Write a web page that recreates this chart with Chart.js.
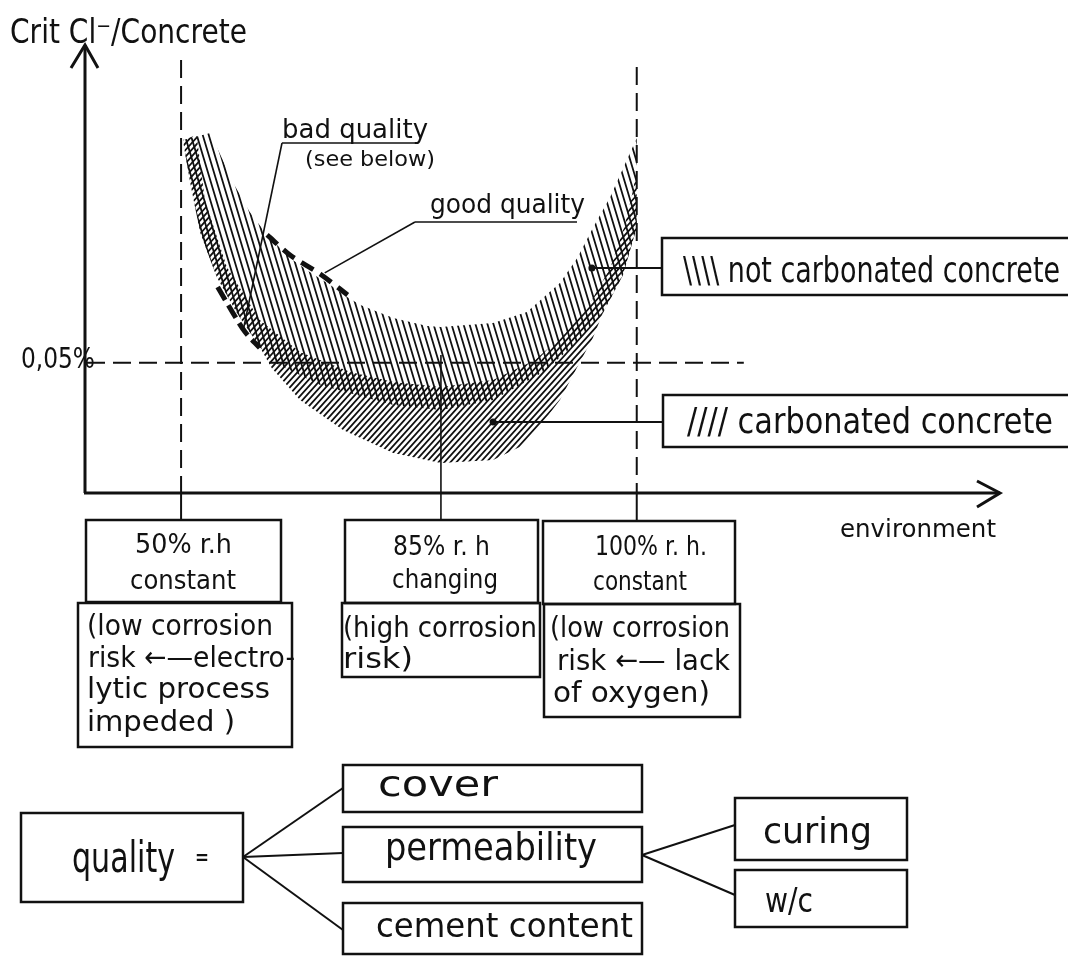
<!DOCTYPE html>
<html><head><meta charset="utf-8">
<script src="https://cdn.jsdelivr.net/npm/chart.js@4/dist/chart.umd.min.js"></script>
<style>html,body{margin:0;padding:0;background:#fff;}canvas{display:block;}</style>
</head><body>
<canvas id="c" width="1068" height="956"></canvas>
<script>
// ---------------- DATA ----------------
// x: environment index (arbitrary units), y: critical chloride content (% of concrete)
const envCategories = ['50% r.h constant', '85% r.h changing', '100% r.h. constant'];
const envX = [10.5, 38.9, 60.3];
const thresholdY = 0.05;
const thresholdLabel = '0,05%';
const yAxisTitle = 'Crit Cl\u207B/Concrete';
const xAxisTitle = 'environment';

// not carbonated concrete band (upper and lower bounds)
const notCarbUpperX = [13.7,16.2,18.0,19.9,22.4,24.6,26.8,28.6,30.1,33.7,37.4,38.9,44.6,48.3,51.9,53.8,55.5,57.4,59.2,60.3];
const notCarbUpperY = [0.1382,0.1190,0.1079,0.0991,0.0902,0.0848,0.0799,0.0753,0.0722,0.0672,0.0641,0.0637,0.0653,0.0695,0.0806,0.0902,0.1017,0.1136,0.1278,0.1363];
const notCarbLowerX = [10.7,11.5,12.6,14.4,16.6,19.1,20.8,25.7,33.7,38.9,44.6,50.1,53.8,56.6,58.8,59.9,60.3];
const notCarbLowerY = [0.1355,0.1190,0.0998,0.0829,0.0691,0.0561,0.0499,0.0415,0.0338,0.0319,0.0357,0.0465,0.0580,0.0691,0.0837,0.0971,0.1017];

// carbonated concrete band (upper and lower bounds)
const carbUpperX = [12.2,13.1,15.5,19.1,23.5,29.0,33.7,38.9,44.6,49.2,52.5,55.2,57.4,59.0,59.9,60.3];
const carbUpperY = [0.1374,0.1125,0.0868,0.0664,0.0541,0.0465,0.0426,0.0407,0.0434,0.0511,0.0614,0.0729,0.0864,0.1029,0.1163,0.1240];
const carbLowerX = [10.7,11.5,12.6,14.4,16.6,19.1,20.4,23.5,28.2,33.7,38.9,44.6,47.5,49.4,51.9,53.8,55.5,56.6,58.8,59.9,60.3];
const carbLowerY = [0.1355,0.1190,0.0998,0.0829,0.0691,0.0561,0.0480,0.0357,0.0242,0.0154,0.0115,0.0127,0.0177,0.0242,0.0357,0.0484,0.0595,0.0691,0.0837,0.0971,0.1017];

// quality limit lines
const goodQualityX = [19.9,22.4,25.7,28.7];
const goodQualityY = [0.0991,0.0914,0.0841,0.0760];
const badQualityX = [14.5,16.1,17.5,19.1];
const badQualityY = [0.0791,0.0695,0.0618,0.0557];

// annotation anchors (data units)
const legendLabels = ['\\\\\\\\ not carbonated concrete', '//// carbonated concrete'];
const legendAnchorX = [55.4, 44.6];
const legendAnchorY = [0.0864, 0.0273];
const qualityLabels = ['bad quality', '(see below)', 'good quality'];
const badLeaderEnd = [17.3, 0.0626];
const goodLeaderEnd = [26.2, 0.0845];

const envBoxTop = [['50% r.h', 'constant'], ['85% r. h', 'changing'], ['100% r. h.', 'constant']];
const envBoxBottom = [
  ['(low corrosion', 'risk \u2190\u2014electro-', 'lytic process', 'impeded )'],
  ['(high corrosion', 'risk)'],
  ['(low corrosion', 'risk \u2190\u2014 lack', 'of oxygen)']
];
const qualityTree = ['quality', 'cover', 'permeability', 'cement content', 'curing', 'w/c'];

// ---------------- HELPERS ----------------
const FONT = '"DejaVu Sans", "Liberation Sans", sans-serif';
function fitText(ctx, str, x, y, size, w, weight) {
  ctx.save();
  ctx.font = (weight || 'normal') + ' ' + size + 'px ' + FONT;
  ctx.textBaseline = 'alphabetic';
  ctx.textAlign = 'left';
  const nat = ctx.measureText(str).width;
  ctx.translate(x, y);
  ctx.scale(w / nat, 1);
  ctx.fillStyle = '#111';
  ctx.fillText(str, 0, 0);
  ctx.restore();
}
function pts(xs, ys) { return xs.map((x, i) => ({x: x, y: ys[i]})); }
function line(ctx, x1, y1, x2, y2) { ctx.beginPath(); ctx.moveTo(x1, y1); ctx.lineTo(x2, y2); ctx.stroke(); }
function box(ctx, x, y, w, h) { ctx.strokeRect(x, y, w, h); }
function hatch(ctx, poly, dxPerDy, spacing, lw) {
  ctx.save();
  ctx.beginPath();
  poly.forEach((p, i) => i ? ctx.lineTo(p.x, p.y) : ctx.moveTo(p.x, p.y));
  ctx.closePath();
  ctx.clip();
  let minX = 1e9, maxX = -1e9, minY = 1e9, maxY = -1e9;
  poly.forEach(p => { minX = Math.min(minX, p.x); maxX = Math.max(maxX, p.x); minY = Math.min(minY, p.y); maxY = Math.max(maxY, p.y); });
  const h = maxY - minY;
  const span = Math.abs(dxPerDy) * h;
  ctx.beginPath();
  for (let x0 = minX - span - spacing; x0 <= maxX + span + spacing; x0 += spacing) {
    ctx.moveTo(x0, minY - 1);
    ctx.lineTo(x0 + dxPerDy * (h + 2), maxY + 1);
  }
  ctx.lineWidth = lw;
  ctx.strokeStyle = '#111';
  ctx.stroke();
  ctx.restore();
}
function metaPts(chart, i) { return chart.getDatasetMeta(i).data.map(e => ({x: e.x, y: e.y})); }

// ---------------- PLUGIN ----------------
const diagram = {
  id: 'diagram',
  beforeDraw(chart) {
    const c = chart.ctx;
    c.save(); c.fillStyle = '#fff'; c.fillRect(0, 0, chart.width, chart.height); c.restore();
  },
  beforeDatasetsDraw(chart) {
    const c = chart.ctx;
    const u1 = metaPts(chart, 0), u3 = metaPts(chart, 1), u2 = metaPts(chart, 2), u4 = metaPts(chart, 3);
    hatch(c, u1.concat(u3.slice().reverse()), 0.3, 6, 1.8);
    hatch(c, u2.concat(u4.slice().reverse()), -0.9, 6, 1.8);
  },
  afterDraw(chart) {
    const c = chart.ctx, xs = chart.scales.x, ys = chart.scales.y, a = chart.chartArea;
    c.save();
    c.strokeStyle = '#111'; c.fillStyle = '#111'; c.lineCap = 'butt';
    // axes
    c.lineWidth = 3;
    line(c, a.left, a.bottom, a.left, a.top);
    c.beginPath(); c.moveTo(a.left - 14, a.top + 23); c.lineTo(a.left, a.top); c.lineTo(a.left + 13, a.top + 23); c.stroke();
    line(c, a.left - 1, a.bottom, a.right, a.bottom);
    c.beginPath(); c.moveTo(a.right - 23, a.bottom - 12); c.lineTo(a.right, a.bottom); c.lineTo(a.right - 23, a.bottom + 14); c.stroke();

    // dashed reference lines
    c.lineWidth = 2; c.setLineDash([18, 8]);
    const ty = ys.getPixelForValue(thresholdY);
    line(c, a.left + 2, ty, xs.getPixelForValue(72), ty);
    line(c, xs.getPixelForValue(envX[0]), 60, xs.getPixelForValue(envX[0]), a.bottom);
    line(c, xs.getPixelForValue(envX[2]), 67, xs.getPixelForValue(envX[2]), a.bottom);
    c.setLineDash([]);
    // connectors to environment boxes
    line(c, xs.getPixelForValue(envX[0]), a.bottom, xs.getPixelForValue(envX[0]), 520);
    line(c, xs.getPixelForValue(envX[2]), a.bottom, xs.getPixelForValue(envX[2]), 521);
    c.lineWidth = 1.6;
    line(c, xs.getPixelForValue(envX[1]), 355, xs.getPixelForValue(envX[1]), 520);

    // legend leaders
    c.lineWidth = 2;
    for (let i = 0; i < 2; i++) {
      const px = xs.getPixelForValue(legendAnchorX[i]), py = ys.getPixelForValue(legendAnchorY[i]);
      c.beginPath(); c.arc(px, py, 3.5, 0, Math.PI * 2); c.fill();
      line(c, px, py, 662, py);
    }
    // quality annotation leaders
    c.lineWidth = 1.6;
    line(c, 282, 143, 417, 143);
    line(c, 282, 143, xs.getPixelForValue(badLeaderEnd[0]), ys.getPixelForValue(badLeaderEnd[1]));
    line(c, 415, 222, 577, 222);
    line(c, 415, 222, xs.getPixelForValue(goodLeaderEnd[0]), ys.getPixelForValue(goodLeaderEnd[1]));

    // boxes
    c.lineWidth = 2.5;
    box(c, 662, 238, 420, 57);
    box(c, 663, 395, 420, 52);
    box(c, 86, 520, 195, 82);
    box(c, 78, 603, 214, 144);
    box(c, 345, 520, 193, 83);
    box(c, 342, 603, 198, 74);
    box(c, 543, 521, 192, 83);
    box(c, 544, 604, 196, 113);
    box(c, 21, 813, 222, 89);
    box(c, 343, 765, 299, 47);
    box(c, 343, 827, 299, 55);
    box(c, 343, 903, 299, 51);
    box(c, 735, 798, 172, 62);
    box(c, 735, 870, 172, 57);
    c.lineWidth = 2;
    line(c, 243, 857, 343, 788);
    line(c, 243, 857, 343, 853);
    line(c, 243, 857, 343, 930);
    line(c, 642, 855, 735, 825);
    line(c, 642, 855, 735, 895);
    c.restore();

    // texts
    fitText(c, yAxisTitle, 10, 43, 34, 237);
    fitText(c, thresholdLabel, 21, 368, 29, 74);
    fitText(c, xAxisTitle, 840, 537, 25, 156);
    fitText(c, qualityLabels[0], 282, 138, 26, 146);
    fitText(c, qualityLabels[1], 305, 166, 21, 130);
    fitText(c, qualityLabels[2], 430, 213, 26, 155);
    fitText(c, legendLabels[0], 683, 282, 35, 377);
    fitText(c, legendLabels[1], 687, 433, 35, 366);

    fitText(c, envBoxTop[0][0], 135, 553, 27, 97);
    fitText(c, envBoxTop[0][1], 130, 589, 27, 106);
    fitText(c, envBoxTop[1][0], 393, 555, 27, 97);
    fitText(c, envBoxTop[1][1], 392, 588, 27, 106);
    fitText(c, envBoxTop[2][0], 595, 555, 27, 112);
    fitText(c, envBoxTop[2][1], 593, 590, 27, 94);

    const b0 = [[87, 635, 186], [88, 667, 207], [87, 698, 183], [87, 731, 148]];
    envBoxBottom[0].forEach((t, i) => fitText(c, t, b0[i][0], b0[i][1], 29, b0[i][2]));
    const b1 = [[343, 637, 194], [343, 668, 70]];
    envBoxBottom[1].forEach((t, i) => fitText(c, t, b1[i][0], b1[i][1], 29, b1[i][2]));
    const b2 = [[550, 637, 180], [557, 670, 173], [553, 702, 157]];
    envBoxBottom[2].forEach((t, i) => fitText(c, t, b2[i][0], b2[i][1], 29, b2[i][2]));

    fitText(c, qualityTree[0], 72, 872, 43, 103);
    fitText(c, '=', 195, 864, 20, 14, 'bold');
    fitText(c, qualityTree[1], 378, 796, 36, 120);
    fitText(c, qualityTree[2], 385, 860, 37, 212);
    fitText(c, qualityTree[3], 376, 937, 34, 257);
    fitText(c, qualityTree[4], 763, 843, 36, 109);
    fitText(c, qualityTree[5], 765, 912, 34, 48);
  }
};

new Chart(document.getElementById('c').getContext('2d'), {
  type: 'line',
  data: {
    datasets: [
      {label: 'not carbonated upper', data: pts(notCarbUpperX, notCarbUpperY), showLine: false, pointRadius: 0},
      {label: 'not carbonated lower', data: pts(notCarbLowerX, notCarbLowerY), showLine: false, pointRadius: 0},
      {label: 'carbonated upper', data: pts(carbUpperX, carbUpperY), showLine: false, pointRadius: 0},
      {label: 'carbonated lower', data: pts(carbLowerX, carbLowerY), showLine: false, pointRadius: 0},
      {label: 'good quality', data: pts(goodQualityX, goodQualityY), borderColor: '#111', borderWidth: 5, borderDash: [14, 8], pointRadius: 0, tension: 0.3, fill: false},
      {label: 'bad quality', data: pts(badQualityX, badQualityY), borderColor: '#111', borderWidth: 5, borderDash: [15, 6], pointRadius: 0, tension: 0.3, fill: false}
    ]
  },
  options: {
    responsive: false,
    animation: false,
    layout: {padding: {left: 85, right: 68, top: 45, bottom: 463}},
    scales: {
      x: {type: 'linear', min: 0, max: 100, display: false},
      y: {type: 'linear', min: 0, max: 0.172, display: false}
    },
    plugins: {legend: {display: false}, tooltip: {enabled: false}, title: {display: false}}
  },
  plugins: [diagram]
});
</script>
</body></html>
